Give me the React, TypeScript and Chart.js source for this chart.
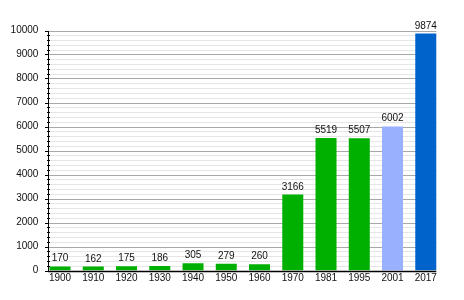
import React, { useEffect, useRef } from "react";
import { Chart, registerables } from "chart.js";

Chart.register(...registerables);

const categories = ["1900", "1910", "1920", "1930", "1940", "1950", "1960", "1970", "1981", "1995", "2001", "2017"];
const population = [170, 162, 175, 186, 305, 279, 260, 3166, 5519, 5507, 6002, 9874];
const barColors = [
  "#00b000", "#00b000", "#00b000", "#00b000", "#00b000", "#00b000", "#00b000",
  "#00b000", "#00b000", "#00b000", "#99b0ff", "#0063cc",
];
const yMax = 10000;
const majorStep = 1000;
const minorStep = 200;

const FONT = "'Liberation Sans', Arial, sans-serif";

const decorPlugin = {
  id: "decor",
  beforeDatasetsDraw(chart: any) {
    const { ctx } = chart;
    const y = chart.scales.y;
    const meta = chart.getDatasetMeta(0);
    const last = meta.data[meta.data.length - 1];
    const right = last.x + last.width / 2;
    const left = 48.5;
    ctx.save();
    for (let v = minorStep; v <= yMax; v += minorStep) {
      const py = Math.round(y.getPixelForValue(v)) + 0.5;
      ctx.strokeStyle = v % majorStep === 0 ? "#a8a8a8" : "#e6e6e6";
      ctx.lineWidth = 1;
      ctx.beginPath();
      ctx.moveTo(left, py);
      ctx.lineTo(right, py);
      ctx.stroke();
    }
    ctx.restore();
  },
  afterDatasetsDraw(chart: any) {
    const { ctx } = chart;
    const y = chart.scales.y;
    const meta = chart.getDatasetMeta(0);
    const last = meta.data[meta.data.length - 1];
    const right = last.x + last.width / 2;
    const axisX = 48.5;
    const top = y.getPixelForValue(yMax);
    const bottom = y.getPixelForValue(0);
    ctx.save();
    ctx.strokeStyle = "#000";
    ctx.lineWidth = 1;
    ctx.beginPath();
    ctx.moveTo(axisX, Math.round(top));
    ctx.lineTo(axisX, Math.round(bottom) + 1);
    ctx.stroke();
    for (let v = 0; v <= yMax; v += minorStep) {
      const py = Math.round(y.getPixelForValue(v)) + 0.5;
      const major = v % majorStep === 0;
      ctx.beginPath();
      ctx.moveTo(major ? 45 : 47, py);
      ctx.lineTo(major ? 49 : 50, py);
      ctx.stroke();
    }
    const by = Math.round(bottom) + 0.5;
    ctx.lineWidth = 1.3;
    ctx.beginPath();
    ctx.moveTo(axisX - 0.5, by);
    ctx.lineTo(right, by);
    ctx.stroke();

    ctx.fillStyle = "#111";
    ctx.font = `10px ${FONT}`;
    ctx.textAlign = "center";
    ctx.textBaseline = "alphabetic";
    meta.data.forEach((bar: any, i: number) => {
      ctx.fillText(String(population[i]), bar.x, bar.y - 5);
    });
    ctx.restore();
  },
};

export default function App() {
  const canvasRef = useRef<HTMLCanvasElement | null>(null);

  useEffect(() => {
    if (!canvasRef.current) return;
    const chart = new Chart(canvasRef.current, {
      type: "bar",
      data: {
        labels: categories,
        datasets: [
          {
            data: population,
            backgroundColor: barColors,
            borderWidth: 0,
            barPercentage: 0.632,
            categoryPercentage: 1,
          },
        ],
      },
      options: {
        responsive: false,
        animation: false,
        devicePixelRatio: 1,
        layout: { padding: { top: 30.5, right: 21.6, left: 0, bottom: 0 } },
        plugins: {
          legend: { display: false },
          tooltip: { enabled: false },
        },
        scales: {
          x: {
            grid: { display: false, drawTicks: false },
            border: { display: false },
            ticks: {
              font: { size: 10, family: FONT },
              color: "#111",
              padding: 2,
              maxRotation: 0,
              autoSkip: false,
            },
            afterFit: (s: any) => {
              s.height = 29.5;
            },
          },
          y: {
            min: 0,
            max: yMax,
            grid: { display: false, drawTicks: false },
            border: { display: false },
            ticks: {
              stepSize: majorStep,
              font: { size: 10, family: FONT },
              color: "#111",
              padding: 5,
              callback: (v: any) => String(v),
            },
            afterFit: (s: any) => {
              s.width = 43.4;
            },
          },
        },
      },
      plugins: [decorPlugin],
    });
    return () => chart.destroy();
  }, []);

  return (
    <div style={{ position: "absolute", left: 0, top: 0, width: 464, height: 300, background: "#fff" }}>
      <canvas ref={canvasRef} width={464} height={300} style={{ display: "block" }} />
    </div>
  );
}
